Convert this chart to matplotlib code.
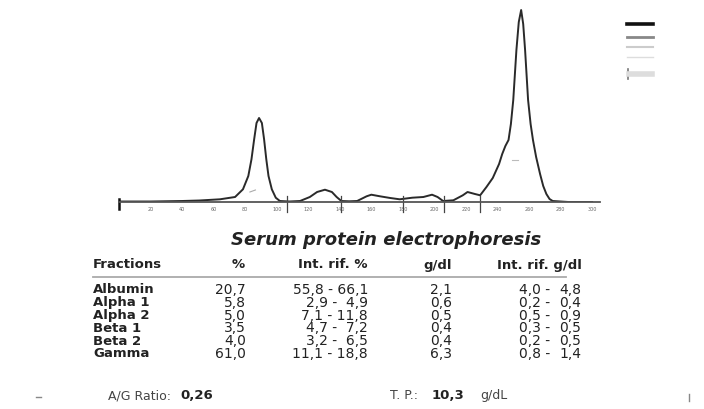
import matplotlib
matplotlib.use("Agg")
import matplotlib.pyplot as plt
from matplotlib.lines import Line2D

# densitometry trace (migration units, height in px)
trace_x = [0, 20, 40, 51, 64, 73.6, 78.6, 82, 84, 85.7,
           87.2, 88.8, 90.6, 92, 93.4, 94.8, 96.9, 99.4, 102, 108,
           114.8, 121, 125.6, 130.6, 135, 138, 141, 146, 151, 157,
           160, 165.5, 172, 178, 186, 193, 198.5, 202, 205.5, 212,
           218, 221, 225.7, 229, 233, 237, 241, 243, 245, 247,
           248.5, 250, 252, 253.5, 255, 256.3, 257.5, 259.4, 261, 262.5,
           264.5, 267, 269, 271, 273, 275, 285, 300]
trace_y = [0.5, 0.5, 1, 1.5, 2.7, 5, 12.7, 26, 42.7, 62.7,
           79, 84, 79, 62.7, 42.7, 26, 12.7, 4.3, 1, 0.5,
           1, 5, 10, 12.3, 10, 5, 1, 0.7, 1, 5.7,
           7.3, 5.7, 4, 2.7, 4.3, 5, 7.3, 5, 1, 1.7,
           6.7, 10, 8, 6.7, 15, 24, 38, 48, 56, 62,
           78, 102, 152, 180, 192, 178, 152, 102, 78, 62,
           45, 28, 16, 8, 3, 1, 0, 0]
dividers = [106.5, 141, 180, 206, 229]
axis_ticks = list(range(20, 301, 20))

# report table
fractions = ["Albumin", "Alpha 1", "Alpha 2", "Beta 1", "Beta 2", "Gamma"]
percent = ["20,7", "5,8", "5,0", "3,5", "4,0", "61,0"]
ref_percent = ["55,8 - 66,1", "2,9 -  4,9", "7,1 - 11,8", "4,7 -  7,2", "3,2 -  6,5", "11,1 - 18,8"]
gdl = ["2,1", "0,6", "0,5", "0,4", "0,4", "6,3"]
ref_gdl_low = ["4,0 -", "0,2 -", "0,5 -", "0,3 -", "0,2 -", "0,8 -"]
ref_gdl_high = ["4,8", "0,4", "0,9", "0,5", "0,5", "1,4"]
ag_ratio = "0,26"
total_protein = "10,3"

W, H = 704, 410


def fx(x):
    return x / W


def fy(y):
    return 1 - y / H


fig = plt.figure(figsize=(W / 100, H / 100), dpi=100)
fig.patch.set_facecolor("white")

# --- trace ---
ax = fig.add_axes([fx(119), fy(203), 481 / W, 200 / H])
ax.plot(trace_x, trace_y, color="#2a2a2a", lw=1.4, solid_joinstyle="round")
ax.set_xlim(0, 305)
ax.set_ylim(0, 200)
for s in ["top", "right", "left"]:
    ax.spines[s].set_visible(False)
ax.spines["bottom"].set_color("#555555")
ax.spines["bottom"].set_linewidth(1.3)
ax.set_yticks([])
ax.set_xticks(axis_ticks, [str(t) for t in axis_ticks])
ax.tick_params(axis="x", length=0, pad=3, labelsize=3.5, labelcolor="#666666")
for d in dividers:
    ax.plot([d, d], [6, -10], color="#444444", lw=0.9, clip_on=False)
ax.plot([0, 0], [3, -7], color="#111111", lw=1.8, clip_on=False)
# faint pencil marks on the peaks
ax.plot([83, 86.5], [10, 12], color="#aaaaaa", lw=0.8)
ax.plot([249, 253], [42, 42], color="#bbbbbb", lw=0.8)

# --- legend swatches top right ---
swatches = [(25, "#111111", 2.6), (38, "#888888", 2.0), (48, "#cccccc", 1.5), (58, "#dddddd", 1.0)]
for y, c, w in swatches:
    fig.add_artist(Line2D([fx(627), fx(653)], [fy(y), fy(y)], color=c, lw=w))
fig.add_artist(Line2D([fx(628), fx(628)], [fy(70), fy(80)], color="#777777", lw=1.2))
fig.add_artist(Line2D([fx(629), fx(652)], [fy(75), fy(75)], color="#dddddd", lw=4))

# --- table ---
txt = "#222222"
fig.text(fx(386), fy(240), "Serum protein electrophoresis", ha="center", va="center",
         fontsize=13, fontweight="bold", fontstyle="italic", color=txt)

hy = 265
fig.text(fx(93), fy(hy), "Fractions", ha="left", va="center", fontsize=9.5, fontweight="bold", color=txt)
fig.text(fx(245), fy(hy), "%", ha="right", va="center", fontsize=9.5, fontweight="bold", color=txt)
fig.text(fx(368), fy(hy), "Int. rif. %", ha="right", va="center", fontsize=9.5, fontweight="bold", color=txt)
fig.text(fx(452), fy(hy), "g/dl", ha="right", va="center", fontsize=9.5, fontweight="bold", color=txt)
fig.text(fx(582), fy(hy), "Int. rif. g/dl", ha="right", va="center", fontsize=9.5, fontweight="bold", color=txt)
fig.add_artist(Line2D([fx(93), fx(566)], [fy(278), fy(278)], color="#aaaaaa", lw=1.3))

for i in range(len(fractions)):
    y = 290 + 12.8 * i
    fig.text(fx(93), fy(y), fractions[i], ha="left", va="center", fontsize=9.5, fontweight="bold", color=txt)
    fig.text(fx(246), fy(y), percent[i], ha="right", va="center", fontsize=10, color=txt)
    fig.text(fx(368), fy(y), ref_percent[i], ha="right", va="center", fontsize=10, color=txt)
    fig.text(fx(452), fy(y), gdl[i], ha="right", va="center", fontsize=10, color=txt)
    fig.text(fx(550), fy(y), ref_gdl_low[i], ha="right", va="center", fontsize=10, color=txt)
    fig.text(fx(581), fy(y), ref_gdl_high[i], ha="right", va="center", fontsize=10, color=txt)

fy_foot = 396
fig.text(fx(108), fy(fy_foot), "A/G Ratio:", ha="left", va="center", fontsize=9, color="#444444")
fig.text(fx(180), fy(fy_foot), ag_ratio, ha="left", va="center", fontsize=9.5, fontweight="bold", color=txt)
fig.text(fx(390), fy(fy_foot), "T. P.:", ha="left", va="center", fontsize=9, color="#444444")
fig.text(fx(432), fy(fy_foot), total_protein, ha="left", va="center", fontsize=9.5, fontweight="bold", color=txt)
fig.text(fx(480), fy(fy_foot), "g/dL", ha="left", va="center", fontsize=9, color="#444444")

# scan specks
fig.add_artist(Line2D([fx(36), fx(41)], [fy(398), fy(398)], color="#888888", lw=1))
fig.add_artist(Line2D([fx(689), fx(689)], [fy(395), fy(402)], color="#888888", lw=1))

fig.savefig("out.png", dpi=100)
